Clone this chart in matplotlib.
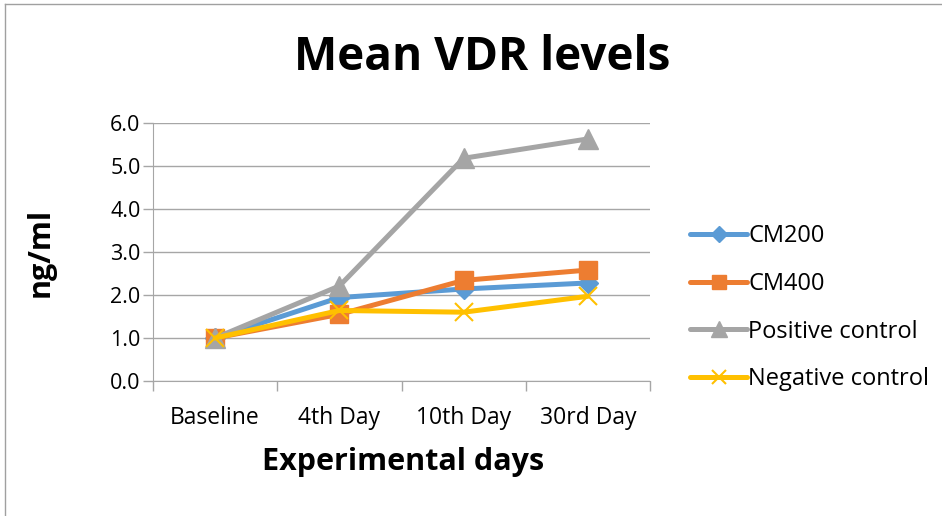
import matplotlib
matplotlib.use("Agg")
import matplotlib.pyplot as plt
from matplotlib.lines import Line2D

categories = ["Baseline", "4th Day", "10th Day", "30rd Day"]
cm200 = [1.0, 1.94, 2.14, 2.28]
cm400 = [1.0, 1.55, 2.34, 2.58]
positive = [1.0, 2.21, 5.18, 5.63]
negative = [1.0, 1.64, 1.60, 1.97]
yticks = [0.0, 1.0, 2.0, 3.0, 4.0, 5.0, 6.0]

series = [
    ("CM200", cm200, "#5B9BD5", "D", 10),
    ("CM400", cm400, "#ED7D31", "s", 13),
    ("Positive control", positive, "#A5A5A5", "^", 15),
    ("Negative control", negative, "#FFC000", "x", 13),
]

font = ["Open Sans", "DejaVu Sans"]
plt.rcParams["font.family"] = font

fig = plt.figure(figsize=(9.42, 5.16), dpi=100)
ax = fig.add_axes([153/942, 1-381/516, (650-153)/942, (381-123)/516])

x = list(range(len(categories)))
handles = []
for name, vals, col, mk, ms in series:
    if mk == "x":
        ax.plot(x, vals, color=col, lw=3.6, marker=mk, ms=ms, mew=1.5, mec=col, solid_capstyle="round", zorder=3)
    else:
        ax.plot(x, vals, color=col, lw=3.6, marker=mk, ms=ms, mec=col, mfc=col, solid_capstyle="round", zorder=3)
    handles.append(Line2D([0], [0], color=col, lw=3.6, marker=mk, ms=ms*0.8,
                          mec=col, mfc=col, mew=1.5 if mk == "x" else 1, solid_capstyle="round"))

ax.set_xlim(-0.5, len(categories) - 0.5)
ax.set_ylim(0, 6.0)
ax.set_yticks(yticks)
ax.set_yticklabels([f"{v:.1f}" for v in yticks], fontsize=15.5)
ax.set_xticks(x)
ax.set_xticklabels(categories, fontsize=16.5)
ax.set_xticks([i - 0.5 for i in range(len(categories) + 1)], minor=True)
ax.tick_params(axis="x", which="major", length=0, pad=18)
ax.tick_params(axis="x", which="minor", length=7, color="#A6A6A6", width=1)
ax.tick_params(axis="y", length=7, color="#A6A6A6", width=1, pad=2)

ax.grid(axis="y", color="#A6A6A6", lw=1)
ax.set_axisbelow(True)
for s in ["top", "right"]:
    ax.spines[s].set_visible(False)
ax.spines["left"].set_color("#A6A6A6")
ax.spines["bottom"].set_color("#A6A6A6")

fig.text(482/942, 1-58/516, "Mean VDR levels", ha="center", va="center", fontsize=33, fontweight="bold")
fig.text(41/942, 1-252/516, "ng/ml", ha="center", va="center", rotation=90, fontsize=22, fontweight="bold")
fig.text(403/942, 1-462/516, "Experimental days", ha="center", va="center", fontsize=22, fontweight="bold")

fig.legend(handles, [s[0] for s in series], loc="upper left", bbox_to_anchor=(681/942, 1-215/516),
           frameon=False, fontsize=17, handlelength=2.4, handletextpad=0.05, labelspacing=1.0,
           borderaxespad=0)

# chart frame
fig.add_artist(Line2D([5/942, 1], [1-4/516, 1-4/516], color="#A0A0A0", lw=1, transform=fig.transFigure))
fig.add_artist(Line2D([5/942, 5/942], [0, 1-4/516], color="#A0A0A0", lw=1, transform=fig.transFigure))

fig.savefig("out.png", dpi=100)
